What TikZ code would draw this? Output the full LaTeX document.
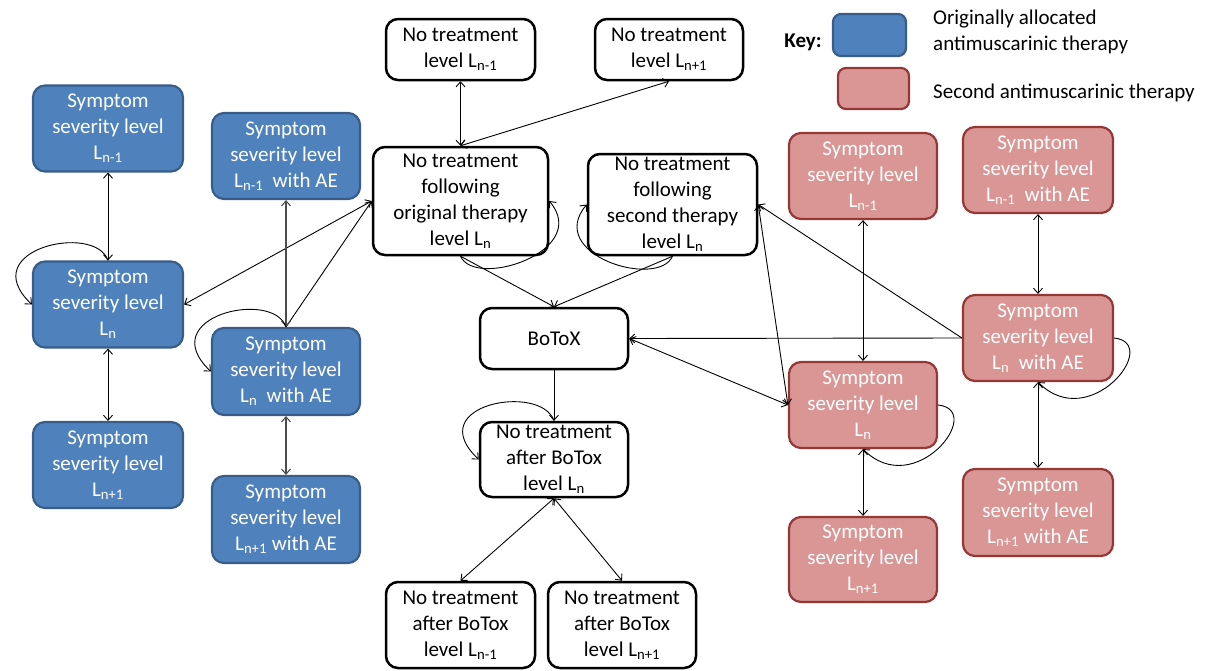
\documentclass[tikz,border=0pt]{standalone}
\usepackage{fontspec}
\setmainfont{Carlito}
\usetikzlibrary{arrows.meta}
\definecolor{bluefill}{HTML}{4F81BD}
\definecolor{blueline}{HTML}{385D8A}
\definecolor{redfill}{HTML}{D99694}
\definecolor{redline}{HTML}{953735}
\begin{document}
\begin{tikzpicture}[x=1pt,y=-1pt,
  >={Straight Barb[length=5pt,width=9pt]},
  box/.style={rounded corners=12pt, align=center, inner sep=0pt, font=\fontsize{21}{26}\selectfont},
  bluebox/.style={box, fill=bluefill, draw=blueline, line width=2.2pt, text=white, minimum width=150pt, minimum height=86pt},
  redbox/.style={box, fill=redfill, draw=redline, line width=2.2pt, text=white, minimum width=148pt, minimum height=86pt},
  wbox/.style={box, fill=white, draw=black, line width=2.5pt, text=black, minimum width=148pt},
  conn/.style={draw, line width=0.9pt},
  greyconn/.style={conn, draw=black!70, line width=1.1pt},
  keytext/.style={inner sep=0pt, font=\fontsize{21}{26}\selectfont}
]
\useasboundingbox (0,0) rectangle (1211,670);

% blue states
\node[bluebox] (B1) at (108,128.5) {Symptom\\severity level\\L\textsubscript{n-1}};
\node[bluebox] (B2) at (108,304.5) {Symptom\\severity level\\L\textsubscript{n}};
\node[bluebox] (B3) at (108,465) {Symptom\\severity level\\L\textsubscript{n+1}};
\node[bluebox, minimum width=148pt] (A1) at (286,156) {Symptom\\severity level\\L\textsubscript{n-1}\ \ with AE};
\node[bluebox, minimum width=148pt, minimum height=87pt] (A2) at (286,371.5) {Symptom\\severity level\\L\textsubscript{n}\ \ with AE};
\node[bluebox, minimum width=148pt, minimum height=87pt] (A3) at (286,519.5) {Symptom\\severity level\\L\textsubscript{n+1} with AE};

% no treatment states
\node[wbox, minimum width=149pt, minimum height=61pt] (T1) at (460.5,49.5) {No treatment\\level L\textsubscript{n-1}};
\node[wbox, minimum height=61pt] (T2) at (669,49.5) {No treatment\\level L\textsubscript{n+1}};
\node[wbox, minimum width=175pt, minimum height=108pt] (O) at (460.5,201) {No treatment\\following\\original therapy\\level L\textsubscript{n}};
\node[wbox, minimum width=169pt, minimum height=101pt] (S) at (672.5,204.5) {No treatment\\following\\second therapy\\level L\textsubscript{n}};
\node[wbox, minimum height=61pt] (BX) at (554,338.5) {BoToX};
\node[wbox, minimum height=75pt] (NB) at (554,459.5) {No treatment\\after BoTox\\level L\textsubscript{n}};
\node[wbox, minimum width=149pt, minimum height=86pt] (NB1) at (460.5,625) {No treatment\\after BoTox\\level L\textsubscript{n-1}};
\node[wbox, minimum height=86pt] (NB2) at (622,625) {No treatment\\after BoTox\\level L\textsubscript{n+1}};

% red states
\node[redbox] (R1) at (863,176) {Symptom\\severity level\\L\textsubscript{n-1}};
\node[redbox] (R2) at (863,405) {Symptom\\severity level\\L\textsubscript{n}};
\node[redbox, minimum height=85pt] (R3) at (863,559.5) {Symptom\\severity level\\L\textsubscript{n+1}};
\node[redbox, minimum width=150pt] (RA1) at (1038,170) {Symptom\\severity level\\L\textsubscript{n-1}\ \ with AE};
\node[redbox, minimum width=150pt] (RA2) at (1038,338) {Symptom\\severity level\\L\textsubscript{n}\ \ with AE};
\node[redbox, minimum width=150pt, minimum height=87pt] (RA3) at (1038,512.5) {Symptom\\severity level\\L\textsubscript{n+1} with AE};

% key
\node[keytext, font=\fontsize{21}{26}\selectfont\bfseries] (KL) at (803,42) {Key:};
\node[bluebox, minimum width=73pt, minimum height=42pt, rounded corners=8pt] (KB) at (869.5,35) {};
\node[redbox, minimum width=71pt, minimum height=41pt, rounded corners=8pt] (KR) at (873.5,88.5) {};
\node[keytext, anchor=west, align=left] (KT1) at (933,32) {Originally allocated\\antimuscarinic therapy};
\node[keytext, anchor=west] (KT2) at (933,93) {Second antimuscarinic therapy};

% blue connectors
\draw[conn,<->] (B1.south) -- (B2.north);
\draw[conn,<->] (B2.south) -- (B3.north);
\draw[conn,->] (B2.north) .. controls +(-13,-38) and +(-58,-55) .. (B2.west);
\draw[conn,<->] (B2.east) -- (O.west);
\draw[conn,->] (A2.north) -- (O.west);
\draw[greyconn,<->] (A1.south) -- (A2.north);
\draw[greyconn,<->] (A2.south) -- (A3.north);
\draw[conn,->] (A2.north) .. controls +(-13,-38) and +(-58,-55) .. (A2.west);

% no treatment connectors
\draw[conn,<->] (T1.south) -- (O.north);
\draw[conn,<->] (O.north) -- (T2.south);
\draw[conn,->] (O.south) .. controls +(15,33) and +(42,50) .. (O.east);
\draw[conn,->] (S.south) .. controls +(-15,33) and +(-42,50) .. (S.west);
\draw[conn,->] (O.south) -- (BX.north);
\draw[conn,->] (S.south) -- (BX.north);
\draw[conn,->] (BX.south) -- (NB.north);
\draw[conn,->] (NB.north) .. controls +(-13,-38) and +(-58,-55) .. (NB.west);
\draw[conn,<->] (NB.south) -- (NB1.north);
\draw[conn,<->] (NB.south) -- (NB2.north);

% red connectors
\draw[conn,->] (RA2.west) -- (BX.east);
\draw[conn,<->] (R2.west) -- (BX.east);
\draw[conn,->] (RA2.west) -- (S.east);
\draw[conn,<->] (S.east) -- (R2.west);
\draw[conn,<->] (R1.south) -- (R2.north);
\draw[conn,<->] (R2.south) -- (R3.north);
\draw[conn,->] (R2.east) .. controls +(48,5) and +(52,52) .. (R2.south);
\draw[conn,<->] (RA1.south) -- (RA2.north);
\draw[conn,<->] (RA2.south) -- (RA3.north);
\draw[conn,->] (RA2.east) .. controls +(48,5) and +(52,52) .. (RA2.south);
\end{tikzpicture}
\end{document}
